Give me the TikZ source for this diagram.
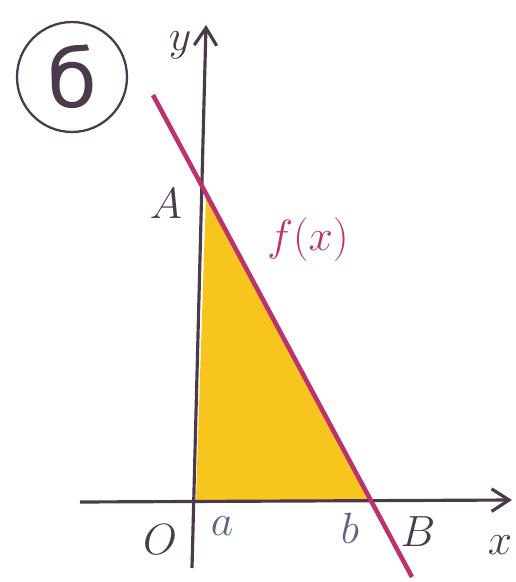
\documentclass[tikz,border=0pt]{standalone}
\usepackage{fontspec}
\newfontfamily\cyrfont{DejaVu Sans}
\definecolor{tinte}{HTML}{4A3A4C}
\definecolor{stift}{HTML}{5C6480}
\definecolor{magenta}{HTML}{BC3270}
\definecolor{gelb}{HTML}{F8C41E}
\usetikzlibrary{arrows.meta}

\begin{document}
\begin{tikzpicture}[x=0.02cm, y=-0.02cm, >={Straight Barb[length=3.5mm, width=4.5mm]},
    lbl/.style={font=\fontsize{28}{32}\selectfont, tinte}]
  \useasboundingbox (0,0) rectangle (515,582);
  % Area under the graph
  \fill[gelb] (206,194) -- (196,500) -- (370,500) -- cycle;
  % Axes
  \draw[->, line width=1.8pt, tinte] (80,502) -- (512,500);
  \draw[->, line width=1.8pt, tinte] (192,568) -- (206,25);
  % Graph of f
  \draw[line width=2.6pt, magenta] (153,95) -- (412,577);
  % Variant mark
  \node[draw=tinte, line width=1.3pt, circle, minimum size=2.2cm, inner sep=0pt,
        font=\cyrfont\fontsize{46}{50}\selectfont, tinte] (variant) at (72,77) {б};
  % Labels
  \node[lbl] (ylabel) at (180,45) {$y$};
  \node[lbl] (xlabel) at (500,545) {$x$};
  \node[lbl] (Alabel) at (166,204) {$A$};
  \node[lbl, magenta, font=\fontsize{34}{38}\selectfont] (flabel) at (308,240) {$f(x)$};
  \node[lbl] (Olabel) at (160,540) {$O$};
  \node[lbl, stift] (alabel) at (222,526) {$a$};
  \node[lbl, stift] (blabel) at (350,528) {$b$};
  \node[lbl] (Blabel) at (418,532) {$B$};
\end{tikzpicture}
\end{document}
